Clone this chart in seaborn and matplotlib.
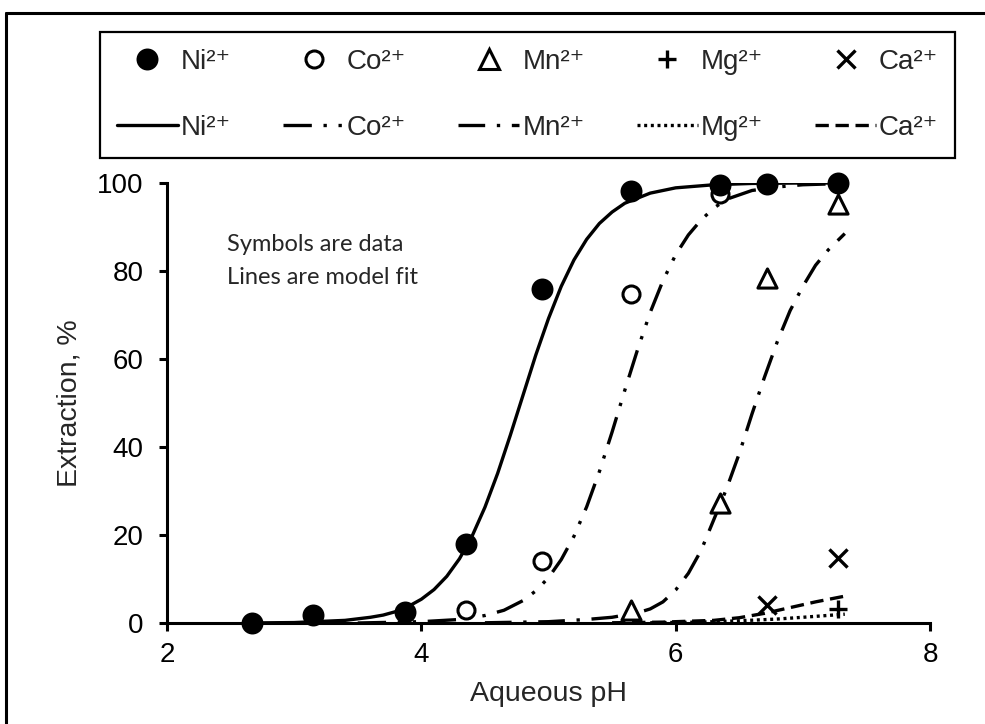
import matplotlib
matplotlib.use("Agg")
import matplotlib.pyplot as plt
from matplotlib.lines import Line2D
import seaborn as sns
import numpy as np

# ---------------- data ----------------
species = ["Ni²⁺", "Co²⁺", "Mn²⁺", "Mg²⁺", "Ca²⁺"]

# measured points
ni_ph = [2.67, 3.15, 3.87, 4.35, 4.95, 5.65, 6.35, 6.72, 7.28]
ni_ext = [0.0, 1.8, 2.5, 18.0, 76.0, 98.2, 99.6, 99.7, 100.0]
co_ph = [4.35, 4.95, 5.65, 6.35]
co_ext = [3.0, 14.1, 74.8, 97.4]
mn_ph = [5.65, 6.35, 6.72, 7.28]
mn_ext = [3.0, 27.3, 78.3, 95.2]
mg_ph = [7.28]
mg_ext = [3.2]
ca_ph = [6.72, 7.28]
ca_ext = [4.1, 14.8]

# model fit lines
ni_fit_ph = [2.6, 3.0, 3.4, 3.6, 3.7, 3.8, 3.9, 4.0, 4.1, 4.2, 4.3, 4.4, 4.5, 4.6, 4.7, 4.8,
             4.9, 5.0, 5.1, 5.2, 5.3, 5.4, 5.5, 5.6, 5.8, 6.0, 6.3, 6.6, 7.0, 7.33]
ni_fit = [0.0, 0.1, 0.6, 1.3, 1.8, 2.6, 3.8, 5.4, 7.6, 10.6, 14.6, 19.8, 26.3, 34.0, 42.7, 51.8,
          60.9, 69.2, 76.5, 82.5, 87.2, 90.8, 93.4, 95.4, 97.7, 98.9, 99.6, 99.9, 100.0, 100.0]
co_fit_ph = [3.5, 4.0, 4.3, 4.5, 4.65, 4.8, 4.9, 5.0, 5.1, 5.2, 5.3, 5.4, 5.5, 5.6, 5.7,
             5.8, 5.9, 6.0, 6.1, 6.2, 6.3, 6.4, 6.6, 6.8, 7.0, 7.33]
co_fit = [0.0, 0.3, 0.8, 1.7, 2.9, 5.1, 7.3, 10.3, 14.4, 19.7, 26.4, 34.4, 43.4, 52.9, 62.1,
          70.6, 77.8, 83.7, 88.2, 91.6, 94.3, 96.3, 98.3, 99.1, 99.6, 99.9]
mn_fit_ph = [4.5, 5.0, 5.3, 5.5, 5.7, 5.8, 5.9, 6.0, 6.1, 6.2, 6.3, 6.4, 6.5, 6.6, 6.7,
             6.8, 6.9, 7.0, 7.1, 7.2, 7.33]
mn_fit = [0.05, 0.3, 0.8, 1.3, 2.3, 3.2, 4.8, 7.5, 11.3, 16.5, 23.5, 30.5, 38.5, 47.5, 56.0,
          64.0, 71.0, 76.5, 81.3, 84.8, 88.5]
mg_fit_ph = [5.8, 6.2, 6.5, 6.8, 7.0, 7.33]
mg_fit = [0.05, 0.2, 0.5, 0.9, 1.3, 2.0]
ca_fit_ph = [5.5, 5.9, 6.3, 6.5, 6.7, 6.9, 7.1, 7.33]
ca_fit = [0.05, 0.2, 0.6, 1.2, 2.2, 3.5, 4.8, 6.1]

x_ticks = [2, 4, 6, 8]
y_ticks = [0, 20, 40, 60, 80, 100]

# ---------------- style ----------------
sns.set_style("ticks")
plt.rcParams['font.family'] = ['Liberation Sans', 'DejaVu Sans']

fig = plt.figure(figsize=(9.85, 7.24), dpi=100)
ax = fig.add_axes([167 / 985, 1 - 623 / 724, (930 - 167) / 985, (623 - 183) / 724])

LW = 2.4
styles = {
    "ni": '-',
    "co": (0, (8.5, 3.5, 1, 3.5, 1, 3.5)),
    "mn": (0, (8, 3.5, 1, 3.5)),
    "mg": (0, (0.9, 1.1)),
    "ca": (0, (4, 2)),
}

sns.lineplot(x=ni_fit_ph, y=ni_fit, ax=ax, color='black', linewidth=LW, linestyle=styles["ni"], zorder=2)
sns.lineplot(x=co_fit_ph, y=co_fit, ax=ax, color='black', linewidth=LW, linestyle=styles["co"], zorder=2)
sns.lineplot(x=mn_fit_ph, y=mn_fit, ax=ax, color='black', linewidth=LW, linestyle=styles["mn"], zorder=2)
sns.lineplot(x=mg_fit_ph, y=mg_fit, ax=ax, color='black', linewidth=LW, linestyle=styles["mg"], zorder=2)
sns.lineplot(x=ca_fit_ph, y=ca_fit, ax=ax, color='black', linewidth=LW, linestyle=styles["ca"], zorder=2)

S_NI, S_CO, S_MN, S_PL = 250, 150, 190, 170
sns.scatterplot(x=co_ph, y=co_ext, ax=ax, marker='o', s=S_CO, facecolor='white', edgecolor='black',
                linewidth=2.2, zorder=3, clip_on=False)
sns.scatterplot(x=mn_ph, y=mn_ext, ax=ax, marker='^', s=S_MN, facecolor='white', edgecolor='black',
                linewidth=2.2, zorder=3, clip_on=False)
sns.scatterplot(x=mg_ph, y=mg_ext, ax=ax, marker='+', s=S_PL, color='black', linewidth=2.4,
                zorder=3, clip_on=False)
sns.scatterplot(x=ca_ph, y=ca_ext, ax=ax, marker='x', s=S_PL, color='black', linewidth=2.4,
                zorder=3, clip_on=False)
sns.scatterplot(x=ni_ph, y=ni_ext, ax=ax, marker='o', s=S_NI, color='black', edgecolor='black',
                linewidth=0, zorder=4, clip_on=False)

ax.set_xlim(2, 8)
ax.set_ylim(0, 100)
ax.set_xticks(x_ticks)
ax.set_yticks(y_ticks)
ax.set_xticklabels([str(t) for t in x_ticks])
ax.set_yticklabels([str(t) for t in y_ticks])
sns.despine(ax=ax)
for sp in ("left", "bottom"):
    ax.spines[sp].set_linewidth(2.2)
    ax.spines[sp].set_color('black')
ax.tick_params(axis='both', direction='out', length=6, width=2.2, colors='black', labelsize=20)
ax.tick_params(axis='y', pad=11)
ax.tick_params(axis='x', pad=8)
ax.set_xlabel("Aqueous pH", fontsize=20.5, labelpad=9)
ax.set_ylabel("Extraction, %", fontsize=20.5, labelpad=10)

ax.text(2.47, 86, "Symbols are data", fontsize=17, family=['Lato', 'DejaVu Sans'], va='center', ha='left')
ax.text(2.47, 78.6, "Lines are model fit", fontsize=17, family=['Lato', 'DejaVu Sans'], va='center', ha='left')

# ---------------- legend ----------------
mk = [
    dict(marker='o', markersize=np.sqrt(S_NI), markerfacecolor='black', markeredgecolor='black', markeredgewidth=0),
    dict(marker='o', markersize=np.sqrt(S_CO), markerfacecolor='white', markeredgecolor='black', markeredgewidth=2.2),
    dict(marker='^', markersize=np.sqrt(S_MN), markerfacecolor='white', markeredgecolor='black', markeredgewidth=2.2),
    dict(marker='+', markersize=np.sqrt(S_PL), markeredgecolor='black', markeredgewidth=2.4),
    dict(marker='x', markersize=np.sqrt(S_PL), markeredgecolor='black', markeredgewidth=2.4),
]
ls = [styles["ni"], styles["co"], styles["mn"], styles["mg"], styles["ca"]]
handles, labels = [], []
for name, m, l in zip(species, mk, ls):
    handles.append(Line2D([], [], linestyle='none', color='black', **m))
    labels.append(name)
    handles.append(Line2D([], [], linestyle=l, color='black', linewidth=LW))
    labels.append(name)

leg = fig.legend(handles, labels, ncol=5, loc='upper left',
                 bbox_to_anchor=(100 / 985, 1 - 32 / 724, 855 / 985, 0), mode='expand',
                 frameon=True, fancybox=False, edgecolor='black', framealpha=1,
                 fontsize=20, handlelength=2.2, handletextpad=0.1, labelspacing=1.45,
                 borderpad=0.6, borderaxespad=0, columnspacing=1.0, numpoints=1)
leg.get_frame().set_linewidth(1.6)

# outer frame (left and top edges visible)
fig.add_artist(Line2D([6 / 985, 6 / 985], [0, 1 - 13 / 724], transform=fig.transFigure, color='black', lw=2.2))
fig.add_artist(Line2D([6 / 985, 1], [1 - 13 / 724, 1 - 13 / 724], transform=fig.transFigure, color='black', lw=2.2))

fig.savefig("out.png", dpi=100)
